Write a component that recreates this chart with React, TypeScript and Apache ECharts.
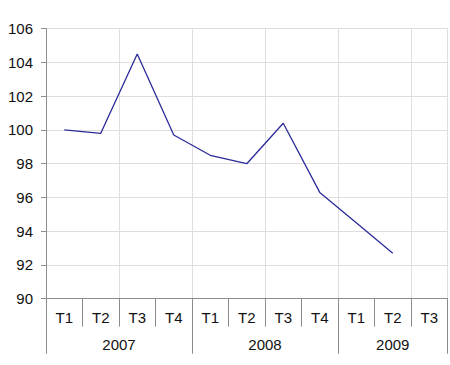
import React, { useEffect, useRef } from "react";
import * as echarts from "echarts";

const quarters = ["T1", "T2", "T3", "T4", "T1", "T2", "T3", "T4", "T1", "T2", "T3"];
const values: (number | null)[] = [100.0, 99.8, 104.5, 99.7, 98.5, 98.0, 100.4, 96.3, 94.5, 92.7, null];
const years = ["2007", "2008", "2009"];
const yearSpans = [4, 4, 3];
const yMin = 90;
const yMax = 106;
const yStep = 2;

export default function App() {
  const ref = useRef<HTMLDivElement>(null);
  useEffect(() => {
    if (!ref.current) return;
    const chart = echarts.init(ref.current, undefined, { renderer: "svg" });
    const bounds: number[] = [0];
    yearSpans.forEach((s) => bounds.push(bounds[bounds.length - 1] + s));
    const centers = yearSpans.map((s, i) => bounds[i] + s / 2);
    const total = bounds[bounds.length - 1];
    const axisGray = "#8c8c8c";
    const gridGray = "#dedede";
    const font = "Liberation Sans, Arial, sans-serif";
    chart.setOption({
      animation: false,
      grid: { left: 46, right: 2.5, top: 28.7, bottom: 66.3 },
      xAxis: [
        {
          type: "category",
          data: quarters,
          boundaryGap: true,
          position: "bottom",
          axisLine: { show: true, lineStyle: { color: axisGray, width: 1 } },
          axisTick: { show: true, length: 28, lineStyle: { color: axisGray } },
          axisLabel: { color: "#111", fontSize: 15, fontFamily: font, margin: 11 },
          splitLine: { show: true, interval: 1, lineStyle: { color: gridGray, width: 1 } },
        },
        {
          type: "value",
          min: 0,
          max: total,
          position: "bottom",
          axisLine: { show: false },
          axisTick: {
            show: true,
            length: 55,
            customValues: bounds,
            lineStyle: { color: axisGray },
          },
          axisLabel: {
            show: true,
            customValues: centers,
            margin: 38,
            color: "#111",
            fontSize: 15,
            fontFamily: font,
            formatter: (v: number) => {
              const i = centers.findIndex((c) => Math.abs(c - v) < 1e-6);
              return i >= 0 ? years[i] : "";
            },
          },
          splitLine: { show: false },
        },
      ],
      yAxis: [
        {
          type: "value",
          min: yMin,
          max: yMax,
          interval: yStep,
          axisLine: { show: true, lineStyle: { color: axisGray } },
          axisTick: { show: true, length: 5, lineStyle: { color: axisGray } },
          axisLabel: { color: "#111", fontSize: 15, fontFamily: font, margin: 13 },
          splitLine: { show: true, lineStyle: { color: gridGray, width: 1 } },
        },
        {
          type: "value",
          min: yMin,
          max: yMax,
          interval: yStep,
          position: "right",
          axisLine: { show: true, lineStyle: { color: gridGray } },
          axisTick: { show: false },
          axisLabel: { show: false },
          splitLine: { show: false },
        },
      ],
      series: [
        {
          type: "line",
          data: values,
          xAxisIndex: 0,
          yAxisIndex: 0,
          symbol: "none",
          connectNulls: false,
          lineStyle: { color: "#2b2b99", width: 1.3 },
        },
      ],
    });
    return () => chart.dispose();
  }, []);
  return <div ref={ref} style={{ width: 450, height: 365, position: "absolute", left: 0, top: 0 }} />;
}
